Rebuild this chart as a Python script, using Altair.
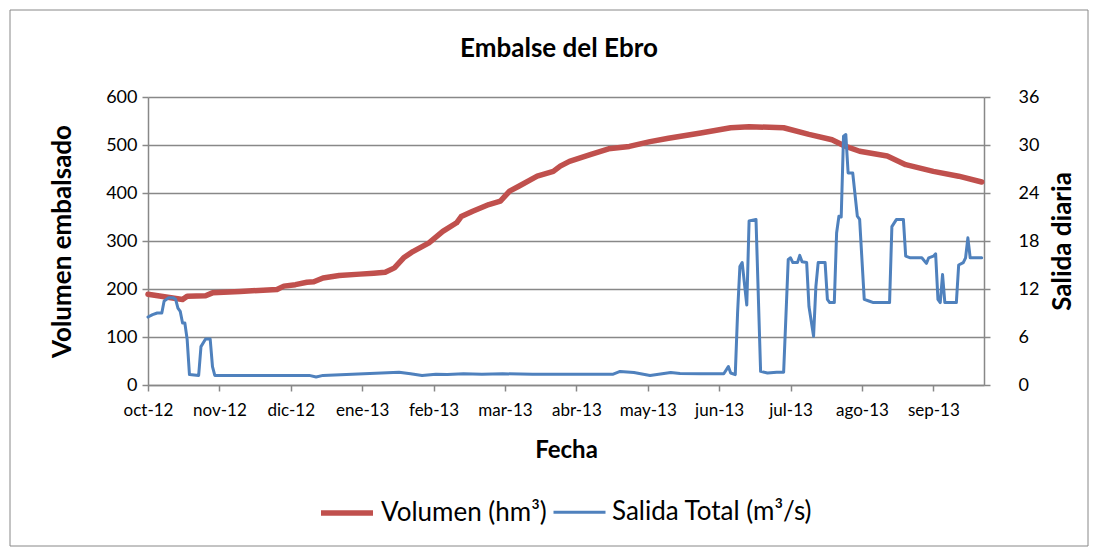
import altair as alt
import pandas as pd

# Eje X: índice de día del año hidrológico (0 = 1-oct-2012), etiquetas cada 31 días
tick_dias = [0, 31, 62, 93, 124, 155, 186, 217, 248, 279, 310, 341]
tick_labels = ["oct-12", "nov-12", "dic-12", "ene-13", "feb-13", "mar-13",
               "abr-13", "may-13", "jun-13", "jul-13", "ago-13", "sep-13"]

# Volumen embalsado (hm³)
vol_dia = [0, 15, 17, 25, 28, 40, 56, 59, 64, 69, 72, 76, 83, 92, 98, 103, 107, 111,
           115, 122, 128, 134, 136, 141, 148, 153, 157, 161, 169, 176, 179, 183, 192,
           200, 209, 218, 226, 240, 253, 261, 276, 287, 297, 303, 309, 321, 329, 341,
           352, 362]
vol_val = [189, 178, 185, 186, 192, 195, 199, 206, 209, 214, 215, 223, 228, 231, 233,
           235, 244, 265, 278, 296, 320, 338, 351, 362, 376, 383, 404, 414, 435, 445,
           456, 466, 480, 492, 497, 507, 514, 525, 536, 538, 536, 522, 511, 497, 487,
           477, 459, 445, 435, 423]

# Salida total (m³/s)
sal_dia = [0, 2, 4, 6, 7, 9, 11, 12, 13, 14, 15, 16, 17, 18, 22, 23, 25, 27, 28, 29,
           70, 73, 76, 109, 114, 119, 125, 130, 137, 145, 154, 167, 202, 205, 211, 218,
           227, 231, 240, 250, 252, 253, 255, 256, 257, 258, 260, 261, 264, 266, 269,
           273, 276, 278, 279, 280, 282, 283, 284, 286, 287, 289, 290, 291, 294, 295,
           296, 298, 299, 300, 301, 302, 303, 304, 306, 308, 309, 311, 313, 315, 322,
           323, 325, 328, 329, 331, 336, 338, 339, 341, 342, 343, 344, 345, 346, 351,
           352, 354, 355, 356, 357, 362]
sal_val = [8.5, 8.8, 9.0, 9.0, 10.5, 10.9, 10.9, 10.7, 9.6, 9.2, 7.75, 7.75, 5.7, 1.3,
           1.2, 4.8, 5.75, 5.75, 2.3, 1.2,
           1.2, 1.0, 1.2, 1.6, 1.4, 1.2, 1.35, 1.3, 1.4, 1.35, 1.4, 1.35, 1.35, 1.7, 1.55,
           1.2, 1.55, 1.45, 1.4, 1.4, 2.3, 1.5, 1.3, 9.0, 14.8, 15.3, 10.0, 20.5, 20.7,
           1.7, 1.5, 1.6, 1.6, 15.7, 15.9, 15.3, 15.3, 16.2, 15.4, 15.3, 9.8, 6.1, 12.3,
           15.3, 15.3, 10.7, 10.3, 10.3, 19.0, 21.1, 21.0, 31.1, 31.3, 26.5, 26.5, 21.1,
           20.7, 10.7, 10.5, 10.3, 10.3, 19.8, 20.7, 20.7, 16.1, 15.9, 15.9, 15.2, 15.9,
           16.1, 16.4, 10.7, 10.3, 13.8, 10.3, 10.3, 15.0, 15.3, 15.9, 18.4, 15.9, 15.9]

TITULO = "Embalse del Ebro"
SERIE_VOL = "Volumen (hm³)"
SERIE_SAL = "Salida Total (m³/s)"
FONT = "Lato"
GRIS = "#888888"

df_vol = pd.DataFrame({"dia": vol_dia, "valor": vol_val, "serie": SERIE_VOL})
df_sal = pd.DataFrame({"dia": sal_dia, "valor": sal_val, "serie": SERIE_SAL})

W, H = 836, 288

label_js = "[" + ",".join("'%s'" % t for t in tick_labels) + "]"
x_enc = alt.X(
    "dia:Q",
    scale=alt.Scale(domain=[0, 363], nice=False, zero=False),
    axis=alt.Axis(
        values=tick_dias, labelExpr=label_js + "[round(datum.value/31)]",
        labelOverlap=False, labelBound=False, labelFlush=False,
        title="Fecha", grid=False, domainColor=GRIS, domainWidth=1.5,
        tickColor=GRIS, tickWidth=1.5, tickSize=6, labelFontSize=17,
        labelPadding=11, labelColor="#000", titleFontSize=24, titleFontWeight="bold",
        titleColor="#000", titleX=W / 2, titleY=65, titleBaseline="middle",
        titleFont=FONT, labelFont=FONT,
    ),
)

color_scale = alt.Scale(domain=[SERIE_VOL, SERIE_SAL], range=["#C0504D", "#4F81BD"])
width_scale = alt.Scale(domain=[SERIE_VOL, SERIE_SAL], range=[5.5, 3])

legend = alt.Legend(
    title=None, orient="none", direction="horizontal", legendX=170, legendY=387,
    symbolType="stroke", symbolSize=2704, labelFontSize=26, labelFont=FONT,
    labelColor="#000", columnPadding=0, labelOffset=5, labelLimit=600,
)

vol = alt.Chart(df_vol).mark_line(strokeCap="round", strokeJoin="round").encode(
    x=x_enc,
    y=alt.Y(
        "valor:Q",
        scale=alt.Scale(domain=[0, 600], nice=False),
        axis=alt.Axis(
            values=[0, 100, 200, 300, 400, 500, 600], title="Volumen embalsado",
            grid=True, gridColor=GRIS, gridWidth=1.5, domainColor=GRIS, domainWidth=1.5,
            tickColor=GRIS, tickWidth=1.5, tickSize=6, labelFontSize=18, labelPadding=5,
            labelColor="#000", labelFont=FONT, titleFont=FONT, titleFontSize=26,
            titleFontWeight="bold", titleColor="#000", titleAngle=-90, titleX=-86,
            titleY=H / 2, titleBaseline="middle", titleAlign="center",
        ),
    ),
    color=alt.Color("serie:N", scale=color_scale, legend=legend),
    strokeWidth=alt.StrokeWidth("serie:N", scale=width_scale, legend=None),
)

sal = alt.Chart(df_sal).mark_line(strokeCap="round", strokeJoin="round").encode(
    x=x_enc,
    y=alt.Y(
        "valor:Q",
        scale=alt.Scale(domain=[0, 36], nice=False),
        axis=alt.Axis(
            orient="right", values=[0, 6, 12, 18, 24, 30, 36], title="Salida diaria",
            grid=False, domainColor=GRIS, domainWidth=1.5, tickColor=GRIS, tickWidth=1.5,
            tickSize=6, labelFontSize=18, labelPadding=28, labelColor="#000",
            labelFont=FONT, titleFont=FONT, titleFontSize=26, titleFontWeight="bold",
            titleColor="#000", titleAngle=-90, titleX=78, titleY=H / 2,
            titleBaseline="middle", titleAlign="center",
        ),
    ),
    color=alt.Color("serie:N", scale=color_scale, legend=legend),
    strokeWidth=alt.StrokeWidth("serie:N", scale=width_scale, legend=None),
)

marco = alt.Chart(pd.DataFrame({"k": [0]})).mark_rect(
    filled=False, stroke=GRIS, strokeWidth=1
).encode(
    x=alt.value(-138), x2=alt.value(W + 104), y=alt.value(-87), y2=alt.value(H + 161)
)

titulo = alt.Chart(pd.DataFrame({"t": [TITULO]})).mark_text(
    font=FONT, fontSize=26, fontWeight="bold", color="#000",
    align="center", baseline="alphabetic",
).encode(text="t:N", x=alt.value(411), y=alt.value(-40))

chart = (
    alt.layer(marco, titulo, vol, sal)
    .resolve_scale(y="independent")
    .properties(
        width=W, height=H,
        padding={"left": 140, "top": 89, "right": 105, "bottom": 162},
        autosize=alt.AutoSizeParams(type="none"),
    )
    .configure_view(stroke=None)
)

chart.save("out.html", embed_options={"renderer": "svg", "actions": False})
